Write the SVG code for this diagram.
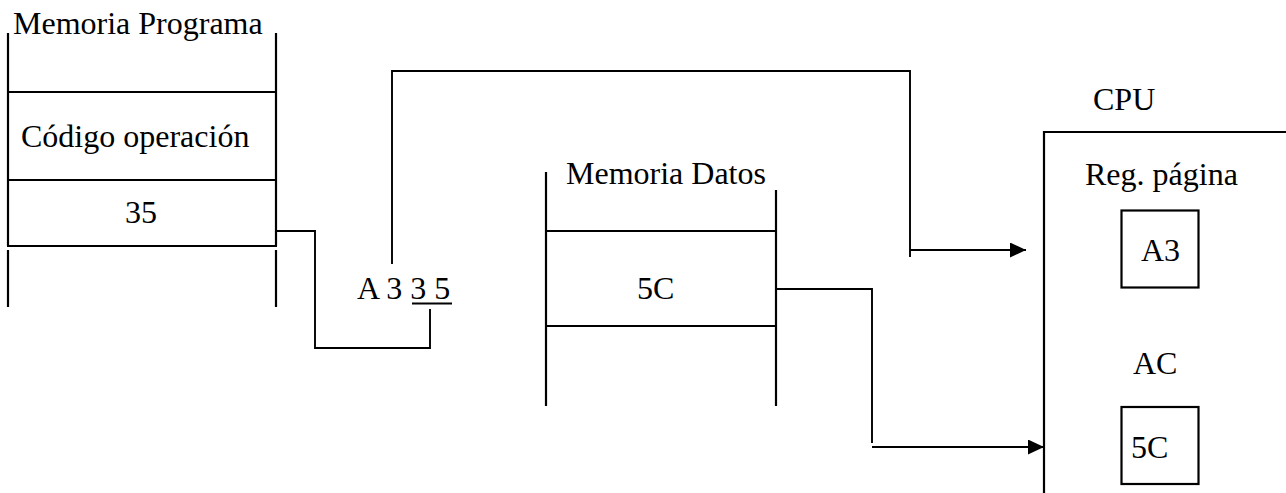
<svg xmlns="http://www.w3.org/2000/svg" width="1286" height="493" viewBox="0 0 1286 493">
  <style>
    .t { font-family: "Liberation Serif", "Times New Roman", serif; font-size: 32px; fill: #000; }
    .ln { stroke: #000; stroke-width: 2.2; fill: none; }
    .thin { stroke: #000; stroke-width: 1.9; fill: none; }
  </style>
  <defs>
    <marker id="arr" markerUnits="userSpaceOnUse" markerWidth="17" markerHeight="16" refX="16" refY="7.5" orient="auto">
      <path d="M0,0 L16,7.5 L0,15 Z" fill="#000"/>
    </marker>
  </defs>
  <rect width="1286" height="493" fill="#fff"/>

  <g id="memoria-programa">
    <text class="t" x="13" y="34">Memoria Programa</text>
    <line class="ln" x1="8" y1="33" x2="8" y2="246"/>
    <line class="ln" x1="276" y1="33" x2="276" y2="246"/>
    <line class="thin" x1="8" y1="92" x2="276" y2="92"/>
    <line class="thin" x1="8" y1="180" x2="276" y2="180"/>
    <line class="ln" x1="7" y1="246" x2="277" y2="246" stroke-width="2.6"/>
    <line class="ln" x1="8" y1="250" x2="8" y2="307"/>
    <line class="ln" x1="276" y1="250" x2="276" y2="307"/>
    <text class="t" x="21" y="147">Código operación</text>
    <text class="t" x="125" y="223">35</text>
  </g>

  <g id="direccion">
    <text class="t" x="357" y="299">A 3 3 5</text>
    <line class="ln" x1="412" y1="303.5" x2="452" y2="303.5"/>
  </g>

  <g id="memoria-datos">
    <text class="t" x="566" y="184">Memoria Datos</text>
    <line class="ln" x1="546" y1="172" x2="546" y2="406"/>
    <line class="ln" x1="776" y1="190" x2="776" y2="406"/>
    <line class="thin" x1="546" y1="231" x2="776" y2="231"/>
    <line class="thin" x1="546" y1="326" x2="776" y2="326"/>
    <text class="t" x="637" y="299">5C</text>
  </g>

  <g id="cpu">
    <text class="t" x="1093" y="110">CPU</text>
    <path class="ln" d="M1044,493 V132 H1286"/>
    <text class="t" x="1085" y="185">Reg. página</text>
    <rect class="ln" x="1121.5" y="210.5" width="77" height="77"/>
    <text class="t" x="1141" y="261">A3</text>
    <text class="t" x="1133" y="374">AC</text>
    <rect class="ln" x="1121.5" y="407" width="77" height="77"/>
    <text class="t" x="1131" y="458">5C</text>
  </g>

  <g id="connectors">
    <path class="thin" d="M276,231 H315 V348 H430 V309"/>
    <path class="thin" d="M392,264 V71 H910 V257"/>
    <line class="ln" x1="910" y1="250" x2="1026" y2="250" marker-end="url(#arr)"/>
    <path class="thin" d="M776,289 H872 V443"/>
    <line class="ln" x1="872" y1="447" x2="1044" y2="447" marker-end="url(#arr)"/>
  </g>
</svg>
